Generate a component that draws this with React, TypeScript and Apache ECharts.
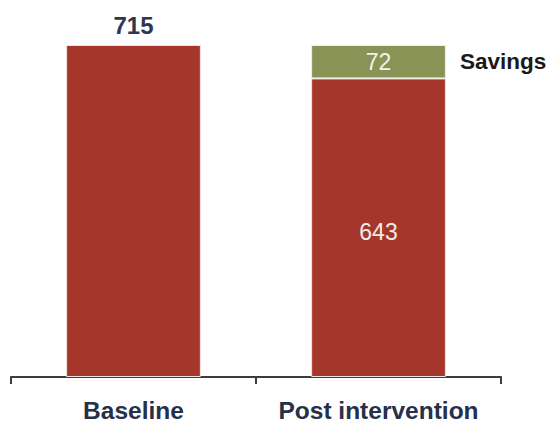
import React, { useEffect, useRef } from "react";
import * as echarts from "echarts";

const categories = ["Baseline", "Post intervention"];
const baseValues = [715, 643];
const savingsValues = [null, 72];
const savingsName = "Savings";

export default function App() {
  const ref = useRef<HTMLDivElement>(null);
  useEffect(() => {
    const chart = echarts.init(ref.current!, null, { renderer: "svg" });
    const font = "'Liberation Sans', Arial, sans-serif";
    chart.setOption({
      animation: false,
      grid: { left: 11, right: 50, top: 45, bottom: 45 },
      xAxis: {
        type: "category",
        data: categories,
        axisLine: { lineStyle: { color: "#3c3c3c", width: 2 } },
        axisTick: { show: true, interval: 0, length: 7, lineStyle: { color: "#3c3c3c", width: 2 } },
        axisLabel: {
          interval: 0,
          hideOverlap: false,
          margin: 21,
          fontSize: 24.5,
          fontWeight: "bold",
          fontFamily: font,
          color: "#27304a",
        },
      },
      yAxis: { type: "value", min: 0, max: 715, show: false },
      series: [
        {
          type: "bar",
          stack: "s",
          barWidth: "55%",
          data: baseValues.map((v, i) => ({
            value: v,
            label:
              i === 0
                ? {
                    show: true,
                    position: "top",
                    distance: 8,
                    fontSize: 24,
                    fontWeight: "bold",
                    fontFamily: font,
                    color: "#2c3850",
                  }
                : {
                    show: true,
                    position: "inside",
                    offset: [0, 4],
                    fontSize: 23,
                    fontFamily: font,
                    color: "#f6ebe4",
                  },
          })),
          itemStyle: { color: "#a5362b", borderColor: "#f1e6df", borderWidth: 1 },
        },
        {
          type: "bar",
          stack: "s",
          name: savingsName,
          barWidth: "55%",
          data: savingsValues,
          itemStyle: { color: "#8a9356", borderColor: "#eef0e0", borderWidth: 1 },
          label: {
            show: true,
            position: "inside",
            fontSize: 23,
            fontFamily: font,
            color: "#f1f2e4",
          },
          markPoint: {
            symbol: "rect",
            symbolSize: [135, 1],
            itemStyle: { color: "rgba(0,0,0,0)" },
            data: [{ coord: [1, 679] }],
            label: {
              show: true,
              position: "right",
              distance: 14,
              formatter: savingsName,
              fontSize: 22.5,
              fontWeight: "bold",
              fontFamily: font,
              color: "#1a1a1a",
            },
          },
        },
      ],
    });
    return () => chart.dispose();
  }, []);
  return <div ref={ref} style={{ width: 551, height: 423, position: "absolute", left: 0, top: 0 }} />;
}
